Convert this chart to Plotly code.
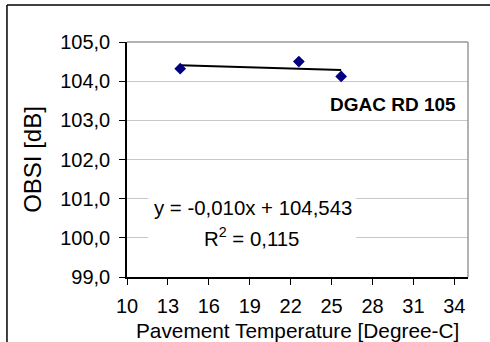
import plotly.graph_objects as go

temps = [13.9, 22.6, 25.7]
obsi = [104.32, 104.50, 104.12]
slope = -0.010
intercept = 104.543
eq_text = "y = -0,010x + 104,543"
r2_text = "R<sup>2</sup> = 0,115"
label_text = "<b>DGAC RD 105</b>"
x_title = "Pavement Temperature [Degree-C]"
y_title = "OBSI [dB]"
x_ticks = [10, 13, 16, 19, 22, 25, 28, 31, 34]
y_ticks = [99, 100, 101, 102, 103, 104, 105]
y_tick_labels = ["99,0", "100,0", "101,0", "102,0", "103,0", "104,0", "105,0"]

font = "Liberation Sans, Arial, sans-serif"

tx = [min(temps), max(temps)]
ty = [slope * v + intercept for v in tx]

fig = go.Figure()
fig.add_trace(go.Scatter(x=tx, y=ty, mode="lines", line=dict(color="black", width=2),
                         hoverinfo="skip", showlegend=False))
fig.add_trace(go.Scatter(x=temps, y=obsi, mode="markers",
                         marker=dict(symbol="diamond", size=9, color="#000080"),
                         showlegend=False))

fig.update_layout(
    width=490, height=342,
    margin=dict(l=127, r=22, t=42, b=65),
    paper_bgcolor="white", plot_bgcolor="white",
    font=dict(family=font, size=20, color="black"),
    showlegend=False,
)
fig.update_xaxes(range=[10, 35], tickvals=x_ticks, ticks="outside", ticklen=6,
                 tickcolor="black", showline=True, linecolor="black", linewidth=1.5,
                 showgrid=False, zeroline=False, ticklabelstandoff=4, automargin=False,
                 tickfont=dict(size=20))
fig.update_yaxes(range=[99, 105], tickvals=y_ticks, ticktext=y_tick_labels,
                 ticks="outside", ticklen=6, tickcolor="black",
                 showline=True, linecolor="black", linewidth=1.5,
                 showgrid=True, gridcolor="#c8c8c8", gridwidth=1, zeroline=False,
                 ticklabelstandoff=5, automargin=False,
                 title=dict(text=y_title, standoff=12),
                 tickfont=dict(size=20))

# plot-area border (top/right, gray)
fig.add_shape(type="line", xref="paper", yref="paper", x0=0, x1=1, y0=1, y1=1,
              line=dict(color="#999999", width=1.5))
fig.add_shape(type="line", xref="paper", yref="paper", x0=1, x1=1, y0=0, y1=1,
              line=dict(color="#999999", width=1.5))
# outer chart frame
fig.add_shape(type="line", xref="paper", yref="paper", x0=-0.352, x1=1.2, y0=1.157, y1=1.157,
              line=dict(color="black", width=1.5))
fig.add_shape(type="line", xref="paper", yref="paper", x0=-0.352, x1=-0.352, y0=1.157, y1=-0.4,
              line=dict(color="black", width=1.5))
# white box behind regression label
fig.add_shape(type="rect", xref="x", yref="y", x0=11.55, x1=26.8, y0=99.85, y1=101.15,
              fillcolor="white", line=dict(width=0), layer="above")

fig.add_annotation(x=0.5, y=-0.228, xref="paper", yref="paper", text=x_title,
                   showarrow=False, yanchor="middle", font=dict(size=20.8))
fig.add_annotation(x=29.47, y=103.40, xref="x", yref="y", text=label_text, showarrow=False,
                   font=dict(size=19))
fig.add_annotation(x=19.22, y=100.77, xref="x", yref="y", text=eq_text,
                   showarrow=False, font=dict(size=20.4))
fig.add_annotation(x=19.15, y=100.01, xref="x", yref="y", text=r2_text,
                   showarrow=False, font=dict(size=20.4))

fig.write_html("out.html", config={"displayModeBar": False},
               post_script="document.body.style.margin='0';document.body.style.overflow='hidden';")
